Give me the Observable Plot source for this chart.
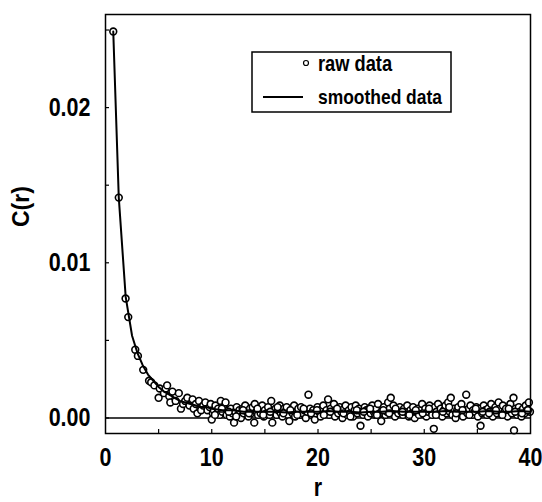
<!DOCTYPE html>
<html>
<head>
<meta charset="utf-8">
<script src="https://cdn.jsdelivr.net/npm/d3@7"></script>
<script src="https://cdn.jsdelivr.net/npm/@observablehq/plot@0.6"></script>
<style>
  html, body { margin: 0; padding: 0; background: #fff; }
  #wrap { position: relative; width: 542px; height: 502px; }
</style>
</head>
<body>
<div id="wrap"></div>
<script>
const FONT = "'Liberation Sans', Arial, Helvetica, sans-serif";

// Axis ticks
const xTicks = [0, 10, 20, 30, 40];
const xMinor = [5, 10, 15, 20, 25, 30, 35];
const yTicks = [0, 0.01, 0.02];
const yMinor = [0, 0.005, 0.01, 0.015, 0.02, 0.025];

// Labels
const legendLabels = ["raw data", "smoothed data"];
const xLabel = "r";
const yLabel = "C(r)";

// Raw data (r, C(r))
const rRaw = [
  0.73, 1.25, 1.89, 2.14, 2.8, 3.05, 3.55, 4.1, 4.3, 4.6, 5.0, 5.1, 5.5, 5.66, 5.8, 6.0, 6.1, 6.3, 6.6, 6.9,
  7.1, 7.3, 7.5, 7.7, 7.9, 8.2, 8.3, 8.5, 8.65, 8.8, 9.0, 9.2, 9.4, 9.6, 9.8, 9.9, 10.0,
  10.1, 10.2, 10.35, 10.5, 10.6, 10.75, 10.85, 11.0, 11.1, 11.3, 11.4, 11.55, 11.7, 11.8, 11.95,
  12.1, 12.2, 12.35, 12.5, 12.6, 12.75, 12.9, 13.0, 13.15, 13.3, 13.45, 13.6, 13.7, 13.85, 14.0,
  14.05, 14.2, 14.35, 14.5, 14.6, 14.75, 14.9, 15.0, 15.15, 15.3, 15.45, 15.6, 15.7, 15.85, 16.0,
  16.1, 16.25, 16.4, 16.5, 16.65, 16.8, 16.9, 17.05, 17.2, 17.3, 17.45, 17.6, 17.75, 17.85, 18.0,
  18.15, 18.3, 18.4, 18.55, 18.7, 18.85, 19.0, 19.1, 19.25, 19.4, 19.55, 19.7, 19.8, 19.95, 20.1,
  20.25, 20.4, 20.5, 20.65, 20.8, 20.95, 21.05, 21.2, 21.35, 21.5, 21.6, 21.75, 21.9,
  22.05, 22.2, 22.3, 22.45, 22.6, 22.75, 22.9, 23.0, 23.15, 23.3, 23.45, 23.55, 23.7, 23.85, 24.0,
  24.1, 24.25, 24.4, 24.55, 24.7, 24.8, 24.95, 25.1, 25.25, 25.4, 25.5, 25.65, 25.8, 25.95, 26.05,
  26.2, 26.35, 26.5, 26.6, 26.75, 26.85, 27.0, 27.1, 27.25, 27.4, 27.55, 27.7, 27.85,
  28.0, 28.1, 28.25, 28.4, 28.55, 28.7, 28.8, 28.95, 29.1, 29.25, 29.4, 29.5, 29.65, 29.8, 29.95,
  30.1, 30.2, 30.35, 30.5, 30.6, 30.75, 30.9, 31.0, 31.15, 31.3, 31.45, 31.55, 31.7, 31.85, 32.0,
  32.1, 32.25, 32.4, 32.5, 32.65, 32.8, 32.95, 33.1, 33.2, 33.35, 33.5, 33.65, 33.8,
  33.95, 34.05, 34.2, 34.35, 34.5, 34.6, 34.75, 34.9, 35.05, 35.2, 35.3, 35.45, 35.6, 35.75, 35.9,
  36.0, 36.15, 36.3, 36.45, 36.6, 36.7, 36.85, 37.0, 37.15, 37.3, 37.4, 37.55, 37.7, 37.85, 38.0,
  38.1, 38.25, 38.4, 38.45, 38.6, 38.75, 38.9, 39.0, 39.15, 39.3, 39.45, 39.55, 39.7, 39.85, 39.95,
  // second pass of overlapping points in the dense band
  10.3, 10.95, 11.6, 12.3, 12.95, 13.5, 14.3, 14.85, 15.5, 16.2, 16.75, 17.4, 18.05, 18.65, 19.35,
  19.9, 20.55, 21.15, 21.8, 22.4, 23.05, 23.65, 24.3, 24.9, 25.55, 26.15, 26.7, 27.3, 27.95, 28.6,
  29.2, 29.85, 30.45, 31.1, 31.75, 32.35, 33.0, 33.6, 34.25, 34.85, 35.5, 36.1, 36.75, 37.35, 37.95,
  38.55, 39.2, 39.75
];
const cRaw = [
  0.0249, 0.0142, 0.0077, 0.0065, 0.0044, 0.0040, 0.0031, 0.0024, 0.0023, 0.0021, 0.0013, 0.0019, 0.0016, 0.0019, 0.0021, 0.0014, 0.0010, 0.0017, 0.0011, 0.0016,
  0.0006, 0.0009, 0.0011, 0.0013, 0.0008, 0.0012, 0.0006, 0.0009, 0.0003, 0.0011, 0.0005, 0.0008, 0.0010, 0.0005, 0.0007, 0.0009, -0.0001,
  0.0003, 0.0005, 0.0008, 0.0003, 0.0006, 0.0002, 0.0011, 0.0004, 0.0007, 0.0010, 0.0002, 0.0005, 0.0001, 0.0006, 0.0003,
  -0.0003, 0.0004, 0.0007, 0.0002, 0.0005, 0.0000, 0.0006, 0.0003, 0.0008, 0.0004, 0.0001, 0.0006, 0.0003, 0.0007, -0.0003,
  0.0009, 0.0004, 0.0002, 0.0006, 0.0003, 0.0008, 0.0001, 0.0005, 0.0003, 0.0007, 0.0002, 0.0011, -0.0003, 0.0004, 0.0006,
  0.0002, 0.0005, 0.0008, 0.0003, 0.0001, 0.0006, 0.0004, 0.0007, 0.0002, -0.0002, 0.0005, 0.0003, 0.0008, 0.0001, 0.0004,
  0.0006, 0.0002, 0.0007, 0.0003, 0.0005, 0.0000, 0.0004, 0.0015, 0.0006, 0.0002, 0.0005, -0.0001, 0.0003, 0.0007, 0.0004,
  0.0001, 0.0006, 0.0008, 0.0003, 0.0005, 0.0012, 0.0002, 0.0006, 0.0004, 0.0009, 0.0001, 0.0005, 0.0003,
  0.0007, 0.0004, 0.0000, 0.0006, 0.0008, 0.0002, 0.0005, 0.0003, 0.0007, 0.0001, 0.0005, 0.0008, 0.0003, 0.0006, -0.0005,
  0.0004, 0.0002, 0.0007, 0.0005, 0.0001, 0.0006, 0.0003, 0.0008, 0.0004, 0.0002, 0.0006, 0.0009, 0.0003, -0.0002, 0.0005,
  0.0007, 0.0002, 0.0004, 0.0010, 0.0006, 0.0013, 0.0003, 0.0008, 0.0001, 0.0005, 0.0003, 0.0007, 0.0004,
  0.0002, 0.0006, 0.0004, 0.0008, 0.0001, 0.0005, 0.0003, 0.0007, 0.0000, 0.0004, 0.0006, 0.0002, 0.0005, 0.0009, 0.0003,
  0.0006, 0.0001, 0.0004, 0.0008, 0.0005, 0.0002, -0.0007, 0.0007, 0.0004, 0.0009, 0.0003, 0.0006, 0.0001, 0.0005, 0.0008,
  0.0003, 0.0010, 0.0004, 0.0013, 0.0002, 0.0006, 0.0000, 0.0005, 0.0007, 0.0003, 0.0009, 0.0001, 0.0005,
  0.0015, 0.0003, 0.0006, 0.0008, 0.0002, 0.0005, 0.0004, 0.0007, 0.0001, 0.0006, -0.0005, 0.0003, 0.0008, 0.0005, 0.0002,
  0.0006, 0.0004, 0.0009, 0.0001, 0.0005, 0.0007, 0.0003, 0.0010, 0.0006, 0.0002, 0.0008, 0.0004, 0.0006, 0.0001, 0.0005,
  0.0009, 0.0003, 0.0013, -0.0008, 0.0006, 0.0002, 0.0007, 0.0004, 0.0001, 0.0006, 0.0003, 0.0008, 0.0005, 0.0010, 0.0004,
  0.0002, 0.0006, 0.0004, 0.0001, 0.0005, 0.0003, 0.0006, 0.0002, 0.0004, 0.0007, 0.0003, 0.0005, 0.0002, 0.0006, 0.0003,
  0.0005, 0.0002, 0.0004, 0.0006, 0.0003, 0.0001, 0.0005, 0.0004, 0.0006, 0.0002, 0.0005, 0.0003, 0.0006, 0.0004, 0.0002,
  0.0005, 0.0003, 0.0006, 0.0002, 0.0004, 0.0007, 0.0003, 0.0005, 0.0002, 0.0006, 0.0004, 0.0003, 0.0005, 0.0002, 0.0006,
  0.0004, 0.0003, 0.0005
];

// Smoothed curve
const rSmooth = [0.73, 1.25, 1.9, 2.5, 3.0, 3.5, 4.0, 4.5, 5.0, 5.5, 6.0, 6.5, 7.0, 7.5, 8.0, 8.5, 9.0, 9.5, 10,
  11, 12, 13, 14, 15, 16, 17, 18, 19, 20, 21, 22, 23, 24, 25, 26, 27, 28, 29, 30, 31, 32, 33, 34, 35, 36, 37, 38, 39, 40];
const cSmooth = [0.0249, 0.0142, 0.0078, 0.0053, 0.0042, 0.0034, 0.0028, 0.0024, 0.0020, 0.0017, 0.0015, 0.0013, 0.0011, 0.0010, 0.0009, 0.0008, 0.0007, 0.0007, 0.0006,
  0.0005, 0.0005, 0.0004, 0.0004, 0.0004, 0.0004, 0.00035, 0.0004, 0.0004, 0.0004, 0.00045, 0.0004, 0.0004, 0.00035, 0.0004, 0.0004, 0.00045, 0.0004, 0.0004, 0.0004, 0.0004, 0.00045, 0.0004, 0.0004, 0.0004, 0.00045, 0.0004, 0.0004, 0.00045, 0.0004];

const raw = rRaw.map((r, i) => ({r, c: cRaw[i]}));
const smooth = rSmooth.map((r, i) => ({r, c: cSmooth[i]}));

const chart = Plot.plot({
  width: 542,
  height: 502,
  marginLeft: 105,
  marginRight: 12,
  marginTop: 14,
  marginBottom: 69,
  x: {domain: [0, 40]},
  y: {domain: [-0.001, 0.026]},
  style: {fontFamily: FONT, fontWeight: "bold", fontSize: "25px", color: "black", background: "white", overflow: "visible"},
  marks: [
    Plot.ruleY([0], {stroke: "black", strokeWidth: 1.5}),
    Plot.axisY({ticks: yMinor, tickSize: -4, text: null, label: null, strokeWidth: 1.2}),
    Plot.axisX({ticks: xMinor, tickSize: -4, text: null, label: null, strokeWidth: 1.2}),
    Plot.axisY({ticks: yTicks, tickSize: 0, tickPadding: 15, tickFormat: d3.format(".2f"), label: null}),
    Plot.axisX({ticks: xTicks, tickSize: 0, tickPadding: 15, tickFormat: d3.format("d"), label: null}),
    Plot.dot(raw, {x: "r", y: "c", r: 3.4, stroke: "black", fill: "white", strokeWidth: 1.6}),
    Plot.line(smooth, {x: "r", y: "c", stroke: "black", strokeWidth: 2}),
    Plot.frame({stroke: "black", strokeWidth: 1.5}),
    Plot.text([xLabel], {text: d => d, frameAnchor: "bottom", dy: 54, lineAnchor: "middle", fontSize: 25}),
    Plot.text([yLabel], {text: d => d, frameAnchor: "left", dx: -84, dy: 3, rotate: -90, fontSize: 23})
  ]
});

const wrap = document.getElementById("wrap");
wrap.appendChild(chart);

// Legend box (SVG overlay inside the plot area)
const ns = "http://www.w3.org/2000/svg";
const leg = document.createElementNS(ns, "svg");
leg.setAttribute("width", 230);
leg.setAttribute("height", 62);
leg.style.position = "absolute";
leg.style.left = "251px";
leg.style.top = "51px";
leg.style.overflow = "visible";
leg.style.fontFamily = FONT;
leg.style.fontWeight = "bold";
leg.innerHTML = `
  <rect x="1" y="1" width="199" height="60" fill="white" stroke="black" stroke-width="1.5"/>
  <circle cx="55" cy="12" r="2.5" fill="white" stroke="black" stroke-width="1.2"/>
  <text x="67" y="12" dy="0.35em" font-size="22">${legendLabels[0]}</text>
  <line x1="12" x2="52" y1="46" y2="46" stroke="black" stroke-width="2"/>
  <text x="67" y="46" dy="0.35em" font-size="21">${legendLabels[1]}</text>
`;
wrap.appendChild(leg);

// Condense text horizontally to mimic a narrow bold face, keeping its anchor point
function anchorPos(b, anchor) {
  return anchor === "end" ? b.x + b.width : anchor === "middle" ? b.x + b.width / 2 : b.x;
}
function condense(root, f, skip) {
  root.querySelectorAll("text").forEach(t => {
    if (skip && skip(t)) return;
    const len = t.getComputedTextLength();
    if (!(len > 0)) return;
    const anchor = getComputedStyle(t).textAnchor;
    const b0 = t.getBBox();
    const a0 = anchorPos(b0, anchor);
    t.setAttribute("textLength", (len * f).toFixed(2));
    t.setAttribute("lengthAdjust", "spacingAndGlyphs");
    const b1 = t.getBBox();
    const shift = a0 - anchorPos(b1, anchor);
    if (Math.abs(shift) > 0.01) {
      const x0 = parseFloat(t.getAttribute("x") || "0");
      t.setAttribute("x", (x0 + shift).toFixed(2));
    }
  });
}
condense(chart, 0.86, t => t.textContent === yLabel);
condense(leg, 0.83);
</script>
</body>
</html>
